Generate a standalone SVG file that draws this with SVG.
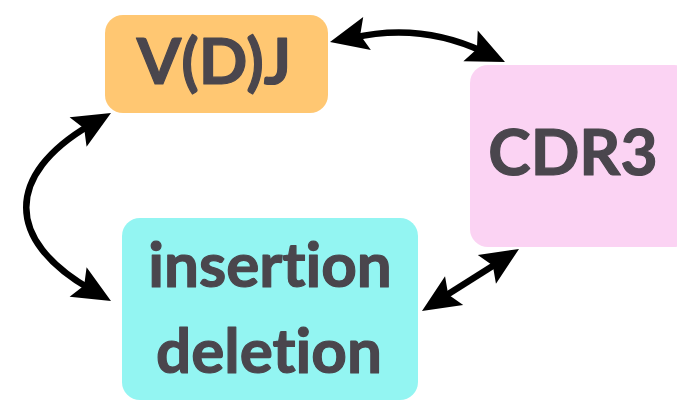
<svg xmlns="http://www.w3.org/2000/svg" xmlns:xlink="http://www.w3.org/1999/xlink" width="677" height="405" viewBox="0 0 677 405">
  <defs>
    <!-- arrowhead, tip at the origin, pointing along +x -->
    <path id="head" d="M0,0 L-38,-17 L-31,0 L-38,17 Z" fill="#000"/>
  </defs>
  <style>
    .box { stroke: none; }
    .label { font-family: Lato, "Open Sans", sans-serif; font-weight: bold; fill: #4a464d; stroke: #4a464d; stroke-width: 1.2; stroke-linejoin: round; text-anchor: middle; font-variant-ligatures: none; }
    .link { fill: none; stroke: #000; stroke-width: 6.5; }
  </style>
  <rect width="677" height="405" fill="#fff"/>

  <g id="vdj">
    <rect class="box" x="105" y="15" width="223" height="98" rx="18" fill="#ffc772"/>
    <text class="label" x="214" y="84" font-size="64">V(D)J</text>
  </g>

  <g id="cdr3">
    <rect class="box" x="470" y="65" width="222" height="182" rx="18" fill="#fbd3f3"/>
    <text class="label" x="573" y="175" font-size="64">CDR3</text>
  </g>

  <g id="indel">
    <rect class="box" x="122" y="218" width="296" height="182" rx="18" fill="#93f5f2"/>
    <text class="label" x="270" y="287" font-size="62">insertion</text>
    <text class="label" x="269" y="373" font-size="62">deletion</text>
  </g>

  <g id="connectors">
    <!-- V(D)J <-> CDR3 -->
    <path class="link" d="M352 38 Q420 22 484 52"/>
    <use href="#head" xlink:href="#head" transform="translate(330 42) rotate(167)"/>
    <use href="#head" xlink:href="#head" transform="translate(505 62) rotate(25)"/>
    <!-- V(D)J <-> insertion/deletion -->
    <path class="link" d="M90 125 C5 175 5 240 90 289"/>
    <use href="#head" xlink:href="#head" transform="translate(111 113) rotate(-30)"/>
    <use href="#head" xlink:href="#head" transform="translate(111 301) rotate(30)"/>
    <!-- insertion/deletion <-> CDR3 -->
    <path class="link" d="M442 298 L499 262"/>
    <use href="#head" xlink:href="#head" transform="translate(519 249) rotate(-32.3)"/>
    <use href="#head" xlink:href="#head" transform="translate(422 311) rotate(147.7)"/>
  </g>
</svg>
